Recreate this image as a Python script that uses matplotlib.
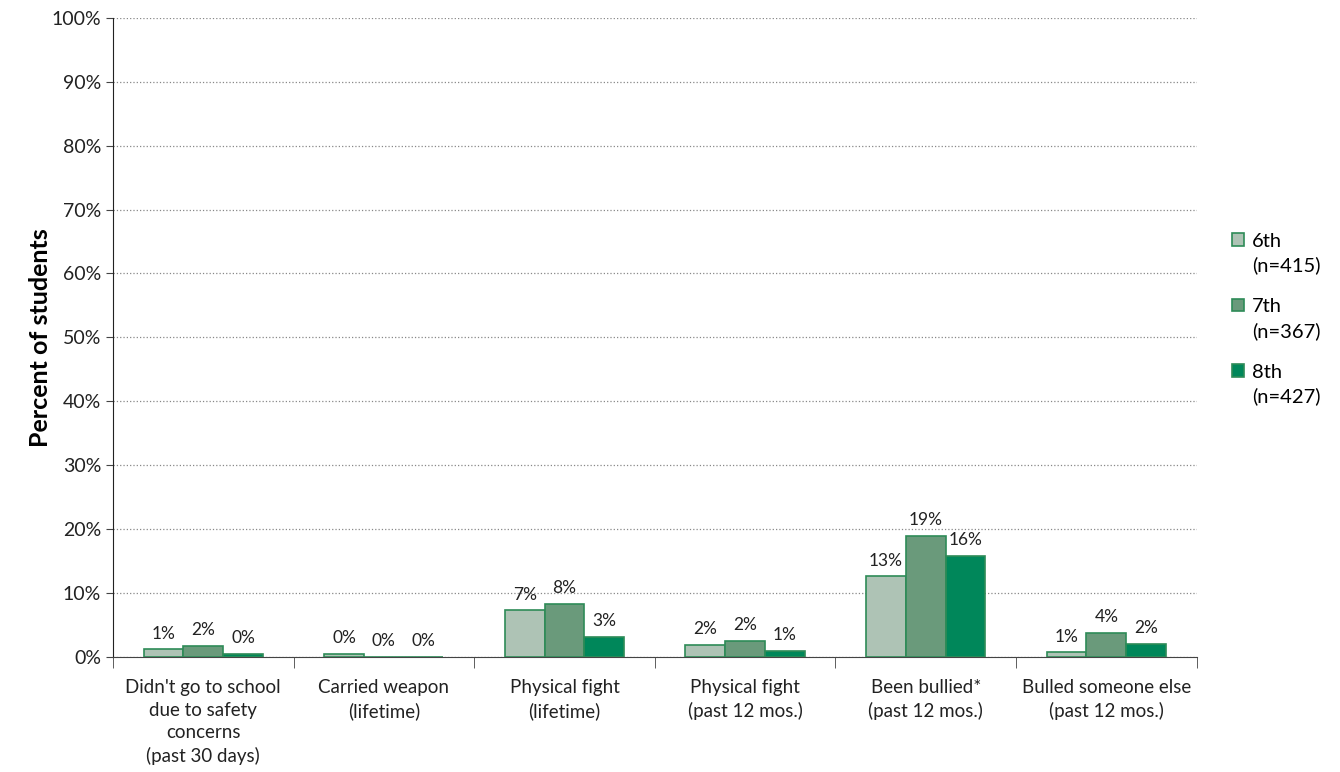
import numpy as np
import matplotlib.pyplot as plt

categories = ["Didn't go to school\ndue to safety\nconcerns\n(past 30 days)",
              "Carried weapon\n(lifetime)",
              "Physical fight\n(lifetime)",
              "Physical fight\n(past 12 mos.)",
              "Been bullied*\n(past 12 mos.)",
              "Bulled someone else\n(past 12 mos.)"]
grades = ["6th\n(n=415)", "7th\n(n=367)", "8th\n(n=427)"]
sixth = [1.2, 0.5, 7.3, 1.9, 12.6, 0.7]
seventh = [1.7, 0.0, 8.3, 2.5, 18.9, 3.8]
eighth = [0.5, 0.0, 3.2, 1.0, 15.8, 2.1]
labels_6 = ["1%", "0%", "7%", "2%", "13%", "1%"]
labels_7 = ["2%", "0%", "8%", "2%", "19%", "4%"]
labels_8 = ["0%", "0%", "3%", "1%", "16%", "2%"]

plt.rcParams['font.family'] = ['Lato', 'DejaVu Sans']

fig = plt.figure(figsize=(13.4, 7.72), dpi=100)
ax = fig.add_axes([0.0843, 0.149, 0.8087, 0.828])

x = np.arange(len(categories))
w = 0.22
faces = ['#aec3b5', '#6a9a7b', '#00875a']
edge = '#2e8b57'
series = [sixth, seventh, eighth]
lbls = [labels_6, labels_7, labels_8]
for i, (vals, face, name, lab) in enumerate(zip(series, faces, grades, lbls)):
    pos = x + (i - 1) * w
    ax.bar(pos, vals, w, color=face, edgecolor=edge, linewidth=1.2, label=name, zorder=3)
    for p, v, t in zip(pos, vals, lab):
        ax.text(p, v + 1.2, t, ha='center', va='bottom', fontsize=12.5, color='#222222')

ax.set_xlim(-0.5, len(categories) - 0.5)
ax.set_ylim(0, 100)
ax.set_yticks(np.arange(0, 101, 10))
ax.set_yticklabels([f"{v}%" for v in range(0, 101, 10)], fontsize=14, color='#222222')
ax.yaxis.grid(True, linestyle=':', color='#888888', linewidth=0.9, zorder=0)
ax.set_xticks(x)
ax.set_xticklabels(categories, fontsize=13.5, linespacing=1.4, color='#222222')
ax.tick_params(axis='x', length=0, pad=16)
ax.set_xticks(np.arange(-0.5, len(categories), 1), minor=True)
ax.tick_params(axis='x', which='minor', length=8, direction='out', color='#444444')
ax.tick_params(axis='y', length=5, color='#444444')
for s in ['top', 'right']:
    ax.spines[s].set_visible(False)
ax.spines['left'].set_color('#222222')
ax.spines['bottom'].set_color('#444444')
ax.set_ylabel("Percent of students", fontsize=18, fontweight='bold')
ax.yaxis.set_label_coords(-0.056, 0.5)

leg = ax.legend(loc='upper left', bbox_to_anchor=(1.016, 0.692), frameon=False,
                fontsize=14.5, handlelength=0.6, handleheight=0.6, handletextpad=0.4,
                labelspacing=1.18)
for t in leg.get_texts():
    t.set_linespacing(1.45)
for h in leg.legend_handles:
    h.set_y(h.get_y() + 10)

fig.savefig('out.png', dpi=100)
